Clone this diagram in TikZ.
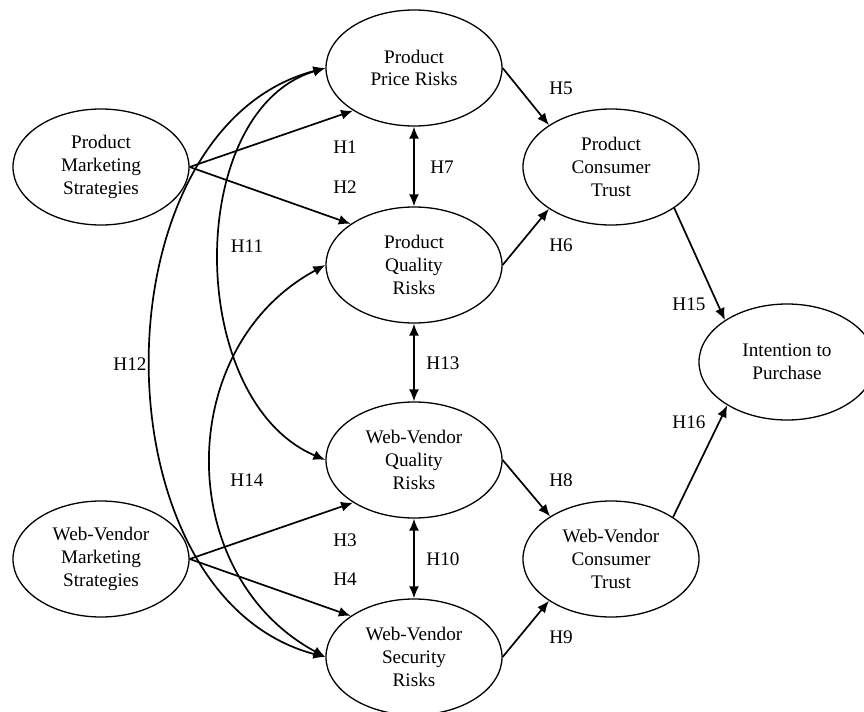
\documentclass[tikz,border=0pt]{standalone}
\usepackage{fontspec}
\setmainfont{Liberation Serif}
\usepackage{tikz}
\usetikzlibrary{arrows.meta}
\usetikzlibrary{shapes.geometric}

\begin{document}
\begin{tikzpicture}[%
            x=0.5pt,y=-0.5pt,
            >={Latex[length=6pt,width=5pt]},
            font=\fontsize{9.6}{11.3}\selectfont,
            construct/.style={%
              ellipse,draw,line width=0.65pt,
              minimum width=88pt,minimum height=58pt,
              inner sep=0pt,align=center
            },
            path/.style={line width=0.85pt}
          ]
            \useasboundingbox (0,0) rectangle (864,712);

            % constructs
            \node [construct] (pms) at (101,167) {Product\\Marketing\\Strategies};
            \node [construct] (wvms) at (101,559) {Web-Vendor\\Marketing\\Strategies};
            \node [construct] (ppr) at (414,68) {Product\\Price Risks};
            \node [construct] (pqr) at (414,265) {Product\\Quality\\Risks};
            \node [construct] (wvqr) at (414,460) {Web-Vendor\\Quality\\Risks};
            \node [construct] (wvsr) at (414,657) {Web-Vendor\\Security\\Risks};
            \node [construct] (pct) at (611,167) {Product\\Consumer\\Trust};
            \node [construct] (wvct) at (611,559) {Web-Vendor\\Consumer\\Trust};
            \node [construct] (itp) at (787,362) {Intention to\\Purchase};

            % hypotheses
            \node (h1) at (345,147) {H1};
            \node (h2) at (345,187) {H2};
            \node (h3) at (345,540) {H3};
            \node (h4) at (345,579) {H4};
            \node (h5) at (561,88) {H5};
            \node (h6) at (561,245) {H6};
            \node (h7) at (442,167) {H7};
            \node (h8) at (561,480) {H8};
            \node (h9) at (561,637) {H9};
            \node (h10) at (443,559) {H10};
            \node (h11) at (247,246) {H11};
            \node (h12) at (130,364) {H12};
            \node (h13) at (443,363) {H13};
            \node (h14) at (247,480) {H14};
            \node (h15) at (689,304) {H15};
            \node (h16) at (689,422) {H16};

            \draw [->,path] (pms.east) -- (ppr.215);
            \draw [->,path] (pms.east) -- (pqr.147);
            \draw [->,path] (wvms.east) -- (wvqr.215);
            \draw [->,path] (wvms.east) -- (wvsr.147);
            \draw [->,path] (ppr.east) -- (pct.146);
            \draw [->,path] (pqr.east) -- (pct.214);
            \draw [->,path] (wvqr.east) -- (wvct.145);
            \draw [->,path] (wvsr.east) -- (wvct.214);
            \draw [->,path] (pct.-33) -- (itp.146);
            \draw [->,path] (wvct.34) -- (itp.216);

            \draw [<->,path] (ppr.south) -- (pqr.north);
            \draw [<->,path] (pqr.south) -- (wvqr.north);
            \draw [<->,path] (wvqr.south) -- (wvsr.north);

            % covariances on the left
            \draw [<->,path] (ppr.west) .. controls +(-141,42) and +(-141,-60) .. (wvqr.west);
            \draw [<->,path] (ppr.west) .. controls +(-232,61) and +(-232,-61) .. (wvsr.west);
            \draw [<->,path] (pqr.west) .. controls +(-152,82) and +(-152,-82) .. (wvsr.west);
          \end{tikzpicture}
\end{document}
